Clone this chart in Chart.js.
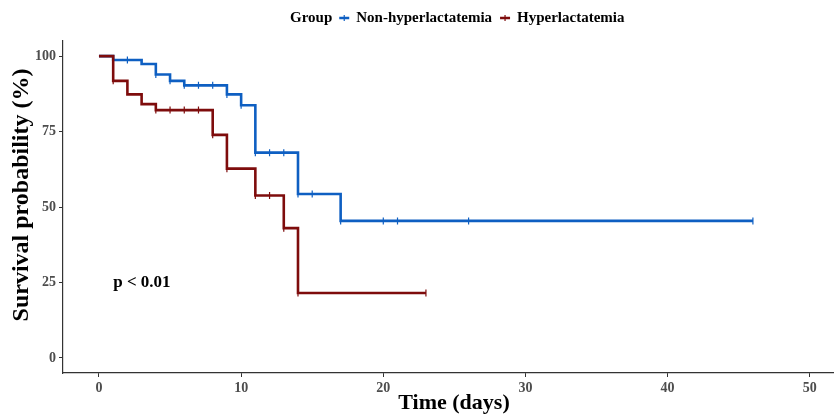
<!DOCTYPE html>
<html>
<head>
<meta charset="utf-8">
<script src="https://cdn.jsdelivr.net/npm/chart.js@4"></script>
<style>
  html, body { margin: 0; padding: 0; background: #fff; overflow: hidden; }
  #wrap { width: 834px; height: 415px; overflow: hidden; }
</style>
</head>
<body>
<div id="wrap"><canvas id="km" width="840" height="415"></canvas></div>
<script>
// Kaplan-Meier estimates (time in days, survival in %)
const groupNames = ["Non-hyperlactatemia", "Hyperlactatemia"]
const groupColors = ["#0E5FC2", "#7E0C0C"]

const nonHyperTimes = [0, 1, 3, 4, 5, 6, 9, 10, 11, 14, 17, 46]
const nonHyperSurv = [100, 98.7, 97.4, 93.9, 91.8, 90.3, 87.3, 83.7, 68.0, 54.3, 45.4, 45.4]
const nonHyperCensor = [1, 2, 4, 5, 6, 7, 8, 9, 10, 11, 12, 13, 14, 15, 17, 20, 21, 26, 46]

const hyperTimes = [0, 1, 2, 3, 4, 8, 9, 11, 13, 14, 23]
const hyperSurv = [100, 91.8, 87.3, 84.1, 82.1, 73.9, 62.7, 53.8, 43.0, 21.5, 21.5]
const hyperCensor = [1, 4, 5, 6, 7, 8, 9, 11, 12, 13, 14, 23]

const xTicks = [0, 10, 20, 30, 40, 50]
const yTicks = [0, 25, 50, 75, 100]
const pValueText = "p < 0.01"
const xTitle = "Time (days)"
const yTitle = "Survival probability (%)"

const serif = "'Liberation Serif', 'Times New Roman', serif"

function survAt(times, surv, t) {
  let s = surv[0]
  for (let i = 0; i < times.length; i++) {
    if (times[i] <= t) s = surv[i]
  }
  return s
}

function stepData(times, surv) {
  return times.map((t, i) => ({ x: t, y: surv[i] }))
}

function censorData(times, surv, cens) {
  return cens.map((t) => ({ x: t, y: survAt(times, surv, t) }))
}

// legend drawn as one row: "Group" + two keyed entries
const legendRow = {
  id: "legendRow",
  afterDraw(chart) {
    const ctx = chart.ctx
    ctx.save()
    ctx.font = "bold 15px " + serif
    ctx.textBaseline = "middle"
    ctx.fillStyle = "#000"
    const gap = 7
    const keyW = 10
    const parts = ["Group"].concat(groupNames)
    const widths = parts.map((p) => ctx.measureText(p).width)
    let x = 290
    const y = 18
    ctx.fillText(parts[0], x, y)
    x += widths[0] + gap
    for (let i = 1; i < parts.length; i++) {
      ctx.strokeStyle = groupColors[i - 1]
      ctx.lineWidth = 2.5
      ctx.beginPath()
      ctx.moveTo(x, y)
      ctx.lineTo(x + keyW, y)
      ctx.stroke()
      ctx.lineWidth = 1.2
      ctx.beginPath()
      ctx.moveTo(x + keyW / 2, y - 3)
      ctx.lineTo(x + keyW / 2, y + 3)
      ctx.stroke()
      x += keyW + gap
      ctx.fillStyle = "#000"
      ctx.fillText(parts[i], x, y)
      x += widths[i] + gap + 1
    }
    ctx.restore()
  },
}

// p-value text and the axis titles (ggplot centres them on the full panel)
const extraText = {
  id: "extraText",
  afterDatasetsDraw(chart) {
    const ctx = chart.ctx
    const xs = chart.scales.x
    const ys = chart.scales.y
    ctx.save()
    ctx.font = "bold 17px " + serif
    ctx.fillStyle = "#000"
    ctx.textBaseline = "middle"
    ctx.textAlign = "left"
    ctx.fillText(pValueText, xs.getPixelForValue(1), ys.getPixelForValue(25))

    ctx.textAlign = "center"
    ctx.font = "bold 22px " + serif
    ctx.fillText(xTitle, 454, 403)

    ctx.translate(22, 195)
    ctx.rotate(-Math.PI / 2)
    ctx.font = "bold 24px " + serif
    ctx.fillText(yTitle, 0, 0)
    ctx.restore()
  },
}

new Chart(document.getElementById("km"), {
  type: "line",
  data: {
    datasets: [
      {
        label: groupNames[0],
        data: stepData(nonHyperTimes, nonHyperSurv),
        stepped: "before",
        borderColor: groupColors[0],
        borderWidth: 2.6,
        pointRadius: 0,
        fill: false,
        order: 2,
      },
      {
        label: groupNames[1],
        data: stepData(hyperTimes, hyperSurv),
        stepped: "before",
        borderColor: groupColors[1],
        borderWidth: 2.6,
        pointRadius: 0,
        fill: false,
        order: 1,
      },
      {
        type: "scatter",
        label: groupNames[0] + " censored",
        data: censorData(nonHyperTimes, nonHyperSurv, nonHyperCensor),
        pointStyle: "line",
        rotation: 90,
        pointRadius: 3.5,
        borderColor: groupColors[0],
        borderWidth: 1.2,
        order: 2,
      },
      {
        type: "scatter",
        label: groupNames[1] + " censored",
        data: censorData(hyperTimes, hyperSurv, hyperCensor),
        pointStyle: "line",
        rotation: 90,
        pointRadius: 3.5,
        borderColor: groupColors[1],
        borderWidth: 1.2,
        order: 1,
      },
    ],
  },
  options: {
    responsive: false,
    animation: false,
    layout: { padding: { top: 41, left: 0, right: 0, bottom: 0 } },
    plugins: {
      legend: { display: false },
      tooltip: { enabled: false },
    },
    scales: {
      x: {
        type: "linear",
        min: -2.53,
        max: 51.76,
        afterBuildTicks: (s) => { s.ticks = xTicks.map((v) => ({ value: v })) },
        afterFit: (s) => { s.height = 42 },
        grid: { drawOnChartArea: false, tickLength: 4, color: "#333", lineWidth: 1 },
        border: { display: true, color: "#333", width: 1.2 },
        ticks: {
          padding: 3,
          color: "#4D4D4D",
          font: { family: serif, size: 14, weight: "bold" },
          maxRotation: 0,
        },
        title: { display: false },
      },
      y: {
        type: "linear",
        min: -5,
        max: 105,
        afterBuildTicks: (s) => { s.ticks = yTicks.map((v) => ({ value: v })) },
        afterFit: (s) => { s.width = 63 },
        grid: { drawOnChartArea: false, tickLength: 4, color: "#333", lineWidth: 1 },
        border: { display: true, color: "#333", width: 1.2 },
        ticks: {
          padding: 3,
          color: "#4D4D4D",
          font: { family: serif, size: 14, weight: "bold" },
        },
        title: { display: false },
      },
    },
  },
  plugins: [legendRow, extraText],
})
</script>
</body>
</html>
